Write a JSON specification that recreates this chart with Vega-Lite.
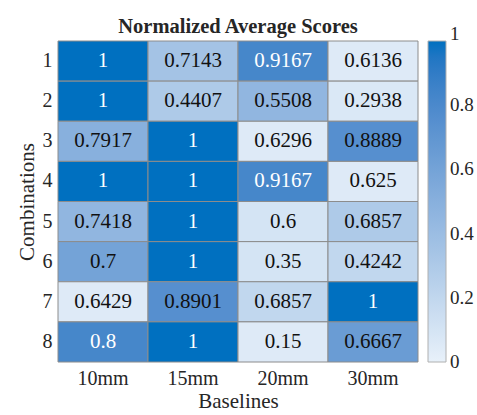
{
  "$schema": "https://vega.github.io/schema/vega-lite/v6.json",
  "width": 360,
  "height": 321,
  "autosize": {"type": "none"},
  "padding": {"left": 58, "top": 41, "right": 59, "bottom": 53},
  "background": "white",
  "config": {
    "font": "Liberation Serif",
    "view": {"stroke": null},
    "axis": {"labelFont": "Liberation Serif", "titleFont": "Liberation Serif", "labelColor": "#262626", "titleColor": "#262626", "titleFontWeight": "normal"}
  },
  "title": {"text": "Normalized Average Scores", "font": "Liberation Serif", "fontSize": 20.5, "fontWeight": "bold", "color": "#262626", "offset": 3, "anchor": "middle"},
  "data": {
    "values": [
      {"row": 1, "col": "10mm", "score": 1, "shade": 1},
      {"row": 1, "col": "15mm", "score": 0.7143, "shade": 0.35},
      {"row": 1, "col": "20mm", "score": 0.9167, "shade": 0.82},
      {"row": 1, "col": "30mm", "score": 0.6136, "shade": 0.05},
      {"row": 2, "col": "10mm", "score": 1, "shade": 1},
      {"row": 2, "col": "15mm", "score": 0.4407, "shade": 0.3},
      {"row": 2, "col": "20mm", "score": 0.5508, "shade": 0.45},
      {"row": 2, "col": "30mm", "score": 0.2938, "shade": 0.07},
      {"row": 3, "col": "10mm", "score": 0.7917, "shade": 0.5},
      {"row": 3, "col": "15mm", "score": 1, "shade": 1},
      {"row": 3, "col": "20mm", "score": 0.6296, "shade": 0.05},
      {"row": 3, "col": "30mm", "score": 0.8889, "shade": 0.75},
      {"row": 4, "col": "10mm", "score": 1, "shade": 1},
      {"row": 4, "col": "15mm", "score": 1, "shade": 1},
      {"row": 4, "col": "20mm", "score": 0.9167, "shade": 0.82},
      {"row": 4, "col": "30mm", "score": 0.625, "shade": 0.05},
      {"row": 5, "col": "10mm", "score": 0.7418, "shade": 0.45},
      {"row": 5, "col": "15mm", "score": 1, "shade": 1},
      {"row": 5, "col": "20mm", "score": 0.6, "shade": 0.1},
      {"row": 5, "col": "30mm", "score": 0.6857, "shade": 0.3},
      {"row": 6, "col": "10mm", "score": 0.7, "shade": 0.6},
      {"row": 6, "col": "15mm", "score": 1, "shade": 1},
      {"row": 6, "col": "20mm", "score": 0.35, "shade": 0.1},
      {"row": 6, "col": "30mm", "score": 0.4242, "shade": 0.2},
      {"row": 7, "col": "10mm", "score": 0.6429, "shade": 0.05},
      {"row": 7, "col": "15mm", "score": 0.8901, "shade": 0.75},
      {"row": 7, "col": "20mm", "score": 0.6857, "shade": 0.2},
      {"row": 7, "col": "30mm", "score": 1, "shade": 1},
      {"row": 8, "col": "10mm", "score": 0.8, "shade": 0.82},
      {"row": 8, "col": "15mm", "score": 1, "shade": 1},
      {"row": 8, "col": "20mm", "score": 0.15, "shade": 0.05},
      {"row": 8, "col": "30mm", "score": 0.6667, "shade": 0.65}
    ]
  },
  "encoding": {
    "x": {"field": "col", "type": "ordinal", "title": "Baselines", "axis": {"labelAngle": 0, "labelFontSize": 20, "titleFontSize": 21, "ticks": false, "domain": false, "labelPadding": 6, "titlePadding": 2}},
    "y": {"field": "row", "type": "ordinal", "title": "Combinations", "axis": {"labelFontSize": 20, "titleFontSize": 21, "ticks": false, "domain": false, "labelPadding": 6, "titlePadding": 5}}
  },
  "layer": [
    {
      "mark": {"type": "rect", "stroke": "#8c8c8c", "strokeWidth": 1},
      "encoding": {
        "color": {"field": "shade", "type": "quantitative", "title": null,
          "scale": {"domain": [0, 1], "range": ["#e8f1fa", "#0070c0"]},
          "legend": {"gradientLength": 321, "gradientThickness": 18, "offset": 10, "values": [0, 0.2, 0.4, 0.6, 0.8, 1], "format": "~g", "labelFontSize": 19, "labelColor": "#262626", "labelFont": "Liberation Serif", "gradientStrokeColor": "#b0b0b0", "gradientStrokeWidth": 1, "labelOffset": 4,
            "encode": {"labels": {"update": {"baseline": {"value": "middle"}, "dy": {"signal": "datum.value >= 1 ? -7 : 0"}}}}}
        }
      }
    },
    {
      "mark": {"type": "text", "fontSize": 21, "font": "Liberation Serif"},
      "encoding": {
        "text": {"field": "score", "type": "quantitative"},
        "color": {"condition": {"test": "datum.shade > 0.78", "value": "white"}, "value": "#111111"}
      }
    }
  ]
}
